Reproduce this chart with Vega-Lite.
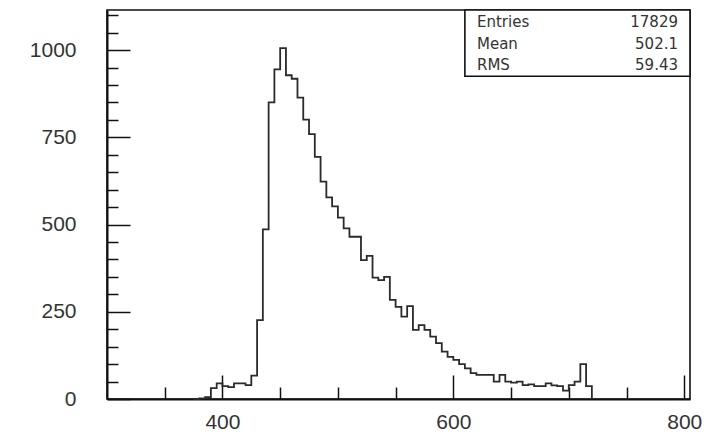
{
  "$schema": "https://vega.github.io/schema/vega-lite/v6.json",
  "width": 583,
  "height": 389,
  "autosize": {"type": "none"},
  "padding": {"left": 107, "top": 10, "right": 21, "bottom": 36},
  "background": "white",
  "config": {
    "view": {"stroke": "#111", "strokeWidth": 1.6},
    "axis": {
      "grid": false,
      "title": null,
      "domainColor": "#111",
      "domainWidth": 2,
      "tickColor": "#111",
      "tickWidth": 1.5,
      "labelFont": "Liberation Sans",
      "labelFontSize": 21,
      "labelColor": "#333",
      "labelFlush": false,
      "labelOverlap": false,
      "format": "d"
    }
  },
  "data": {
    "values": [
      {"bin": 375, "count": 0}, {"bin": 380, "count": 2}, {"bin": 385, "count": 5},
      {"bin": 390, "count": 31}, {"bin": 395, "count": 45}, {"bin": 400, "count": 37},
      {"bin": 405, "count": 34}, {"bin": 410, "count": 45}, {"bin": 415, "count": 45},
      {"bin": 420, "count": 40}, {"bin": 425, "count": 67}, {"bin": 430, "count": 226},
      {"bin": 435, "count": 486}, {"bin": 440, "count": 850}, {"bin": 445, "count": 945},
      {"bin": 450, "count": 1006}, {"bin": 455, "count": 928}, {"bin": 460, "count": 918},
      {"bin": 465, "count": 864}, {"bin": 470, "count": 801}, {"bin": 475, "count": 759},
      {"bin": 480, "count": 694}, {"bin": 485, "count": 623}, {"bin": 490, "count": 578},
      {"bin": 495, "count": 552}, {"bin": 500, "count": 520}, {"bin": 505, "count": 489},
      {"bin": 510, "count": 465}, {"bin": 515, "count": 465}, {"bin": 520, "count": 398},
      {"bin": 525, "count": 410}, {"bin": 530, "count": 348}, {"bin": 535, "count": 341},
      {"bin": 540, "count": 350}, {"bin": 545, "count": 284}, {"bin": 550, "count": 264},
      {"bin": 555, "count": 236}, {"bin": 560, "count": 266}, {"bin": 565, "count": 198},
      {"bin": 570, "count": 212}, {"bin": 575, "count": 198}, {"bin": 580, "count": 179},
      {"bin": 585, "count": 160}, {"bin": 590, "count": 136}, {"bin": 595, "count": 121},
      {"bin": 600, "count": 112}, {"bin": 605, "count": 100}, {"bin": 610, "count": 88},
      {"bin": 615, "count": 74}, {"bin": 620, "count": 69}, {"bin": 625, "count": 69},
      {"bin": 630, "count": 69}, {"bin": 635, "count": 50}, {"bin": 640, "count": 69},
      {"bin": 645, "count": 50}, {"bin": 650, "count": 47}, {"bin": 655, "count": 50},
      {"bin": 660, "count": 40}, {"bin": 665, "count": 42}, {"bin": 670, "count": 37},
      {"bin": 675, "count": 37}, {"bin": 680, "count": 45}, {"bin": 685, "count": 39},
      {"bin": 690, "count": 37}, {"bin": 695, "count": 24}, {"bin": 700, "count": 40},
      {"bin": 705, "count": 50}, {"bin": 710, "count": 100}, {"bin": 715, "count": 37},
      {"bin": 720, "count": 0}
    ]
  },
  "resolve": {"axis": {"x": "independent", "y": "independent"}},
  "layer": [
    {
      "mark": {"type": "line", "interpolate": "step-after", "strokeOpacity": 0},
      "encoding": {
        "x": {
          "field": "bin", "type": "quantitative",
          "scale": {"domain": [300, 805], "nice": false, "zero": false},
          "axis": {
            "orient": "bottom",
            "values": [350, 450, 500, 550, 650, 700, 750],
            "tickSize": -12,
            "labels": false,
            "domain": false
          }
        },
        "y": {
          "field": "count", "type": "quantitative",
          "scale": {"domain": [0, 1115], "nice": false},
          "axis": {
            "orient": "left",
            "values": [50, 100, 150, 200, 300, 350, 400, 450, 550, 600, 650, 700, 800, 850, 900, 950, 1050, 1100],
            "tickSize": -11,
            "labels": false,
            "domain": false
          }
        }
      }
    },
    {
      "mark": {"type": "line", "interpolate": "step-after", "stroke": "#2a2a2a", "strokeWidth": 1.8},
      "encoding": {
        "x": {
          "field": "bin", "type": "quantitative",
          "axis": {
            "orient": "bottom",
            "values": [400, 600, 800],
            "tickSize": -24,
            "labelPadding": 36
          }
        },
        "y": {
          "field": "count", "type": "quantitative",
          "axis": {
            "orient": "left",
            "values": [0, 250, 500, 750, 1000],
            "tickSize": -23,
            "labelPadding": 54
          }
        }
      }
    },
    {
      "data": {
        "values": [
          {"stat": "Entries", "value": "17829"},
          {"stat": "Mean", "value": "502.1"},
          {"stat": "RMS", "value": "59.43"}
        ]
      },
      "layer": [
        {
          "transform": [{"filter": "datum.stat === 'Entries'"}],
          "mark": {"type": "rect", "fill": "white", "stroke": "#111", "strokeWidth": 1.6},
          "encoding": {
            "x": {"datum": 610, "type": "quantitative", "axis": null},
            "x2": {"datum": 805},
            "y": {"datum": 1115, "type": "quantitative", "axis": null},
            "y2": {"datum": 925}
          }
        },
        {
          "transform": [{"filter": "datum.stat === 'Entries'"}],
          "layer": [
            {"mark": {"type": "text", "align": "left", "baseline": "middle", "font": "DejaVu Sans", "fontSize": 15, "color": "#333"},
             "encoding": {"x": {"datum": 620.5, "type": "quantitative", "axis": null}, "y": {"datum": 1080.5, "type": "quantitative", "axis": null}, "text": {"field": "stat"}}},
            {"mark": {"type": "text", "align": "right", "baseline": "middle", "font": "DejaVu Sans", "fontSize": 15, "color": "#333"},
             "encoding": {"x": {"datum": 794.6, "type": "quantitative", "axis": null}, "y": {"datum": 1080.5, "type": "quantitative", "axis": null}, "text": {"field": "value"}}}
          ]
        },
        {
          "transform": [{"filter": "datum.stat === 'Mean'"}],
          "layer": [
            {"mark": {"type": "text", "align": "left", "baseline": "middle", "font": "DejaVu Sans", "fontSize": 15, "color": "#333"},
             "encoding": {"x": {"datum": 620.5, "type": "quantitative", "axis": null}, "y": {"datum": 1017.5, "type": "quantitative", "axis": null}, "text": {"field": "stat"}}},
            {"mark": {"type": "text", "align": "right", "baseline": "middle", "font": "DejaVu Sans", "fontSize": 15, "color": "#333"},
             "encoding": {"x": {"datum": 794.6, "type": "quantitative", "axis": null}, "y": {"datum": 1017.5, "type": "quantitative", "axis": null}, "text": {"field": "value"}}}
          ]
        },
        {
          "transform": [{"filter": "datum.stat === 'RMS'"}],
          "layer": [
            {"mark": {"type": "text", "align": "left", "baseline": "middle", "font": "DejaVu Sans", "fontSize": 15, "color": "#333"},
             "encoding": {"x": {"datum": 620.5, "type": "quantitative", "axis": null}, "y": {"datum": 957.3, "type": "quantitative", "axis": null}, "text": {"field": "stat"}}},
            {"mark": {"type": "text", "align": "right", "baseline": "middle", "font": "DejaVu Sans", "fontSize": 15, "color": "#333"},
             "encoding": {"x": {"datum": 794.6, "type": "quantitative", "axis": null}, "y": {"datum": 957.3, "type": "quantitative", "axis": null}, "text": {"field": "value"}}}
          ]
        }
      ]
    }
  ]
}
